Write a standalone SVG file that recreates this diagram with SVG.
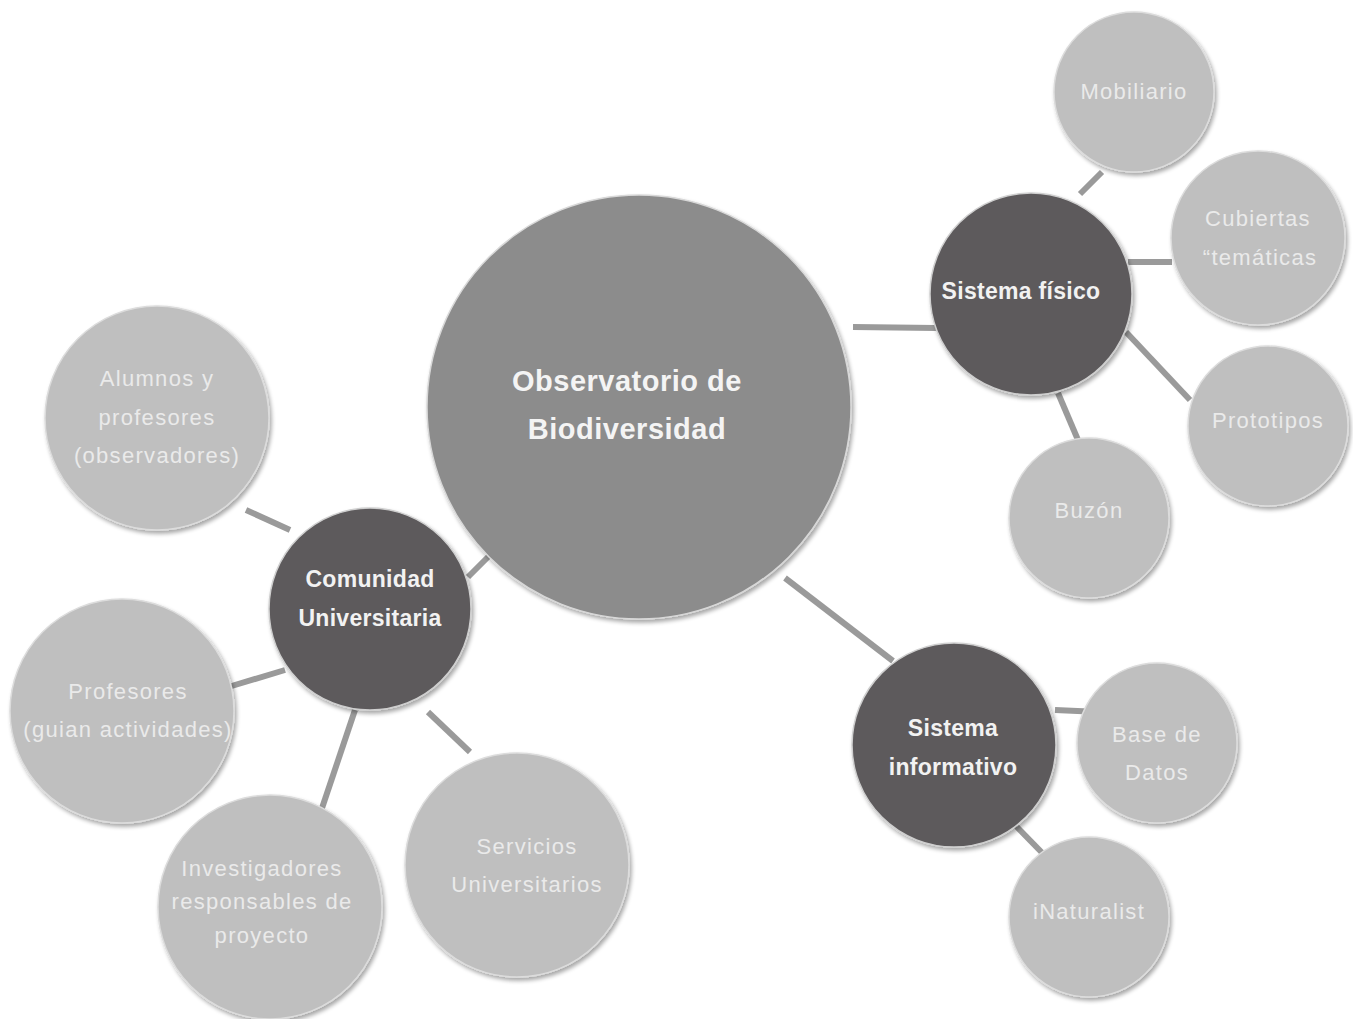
<svg xmlns="http://www.w3.org/2000/svg" width="1353" height="1019" viewBox="0 0 1353 1019">
<defs>
<filter id="sh" x="-10%" y="-10%" width="125%" height="125%">
<feGaussianBlur in="SourceAlpha" stdDeviation="2"/>
<feOffset dx="2" dy="3"/>
<feComponentTransfer><feFuncA type="linear" slope="0.35"/></feComponentTransfer>
<feMerge><feMergeNode/><feMergeNode in="SourceGraphic"/></feMerge>
</filter>
</defs>
<style>
.main{fill:#8c8c8c;stroke:#d8d8d8;stroke-width:1.5;filter:url(#sh)}
.dark{fill:#5d5a5c;stroke:#cfcfcf;stroke-width:1.5;filter:url(#sh)}
.light{fill:#bfbfbf;stroke:#dcdcdc;stroke-width:1.5;filter:url(#sh)}
.conn{stroke:#9a9a9a;stroke-width:6;stroke-linecap:butt;fill:none}
text{font-family:"Liberation Sans",Arial,sans-serif;text-anchor:middle}
.tm{fill:#f4f4f4;font-size:29px;font-weight:bold;letter-spacing:0.5px}
.td{fill:#f2f2f2;font-size:23px;font-weight:bold;letter-spacing:0.3px}
.tl{fill:#eaeaea;font-size:22px;letter-spacing:1.3px}
</style>
<rect width="1353" height="1019" fill="#ffffff"/>
<g id="connectors">
<line class="conn" x1="853" y1="327" x2="936" y2="328"/>
<line class="conn" x1="492" y1="553" x2="468" y2="577"/>
<line class="conn" x1="785" y1="578" x2="893" y2="661"/>
<line class="conn" x1="1080" y1="194" x2="1102" y2="172"/>
<line class="conn" x1="1128" y1="262" x2="1172" y2="262"/>
<line class="conn" x1="1126" y1="332" x2="1190" y2="400"/>
<line class="conn" x1="1058" y1="393" x2="1078" y2="440"/>
<line class="conn" x1="1055" y1="710" x2="1100" y2="712"/>
<line class="conn" x1="1015" y1="825" x2="1055" y2="866"/>
<line class="conn" x1="246" y1="510" x2="290" y2="530"/>
<line class="conn" x1="225" y1="688" x2="285" y2="670"/>
<line class="conn" x1="355" y1="710" x2="317" y2="823"/>
<line class="conn" x1="428" y1="712" x2="470" y2="752"/>
</g>
<g id="n-observatorio"><circle class="main" cx="639" cy="407" r="212"/><text class="tm" x="627" y="391">Observatorio de</text><text class="tm" x="627" y="439">Biodiversidad</text></g>
<g id="n-sistema-fisico"><circle class="dark" cx="1031" cy="294" r="101"/><text class="td" x="1021" y="299">Sistema físico</text></g>
<g id="n-mobiliario"><circle class="light" cx="1134" cy="92" r="80"/><text class="tl" x="1134" y="99">Mobiliario</text></g>
<g id="n-cubiertas"><circle class="light" cx="1258" cy="238" r="87"/><text class="tl" x="1258" y="226">Cubiertas</text><text class="tl" x="1260" y="265">“temáticas</text></g>
<g id="n-prototipos"><circle class="light" cx="1268" cy="426" r="80"/><text class="tl" x="1268" y="428">Prototipos</text></g>
<g id="n-buzon"><circle class="light" cx="1089" cy="518" r="80"/><text class="tl" x="1089" y="518">Buzón</text></g>
<g id="n-sistema-informativo"><circle class="dark" cx="954" cy="745" r="102"/><text class="td" x="953" y="736">Sistema</text><text class="td" x="953" y="775">informativo</text></g>
<g id="n-base-datos"><circle class="light" cx="1157" cy="743" r="80"/><text class="tl" x="1157" y="742">Base de</text><text class="tl" x="1157" y="780">Datos</text></g>
<g id="n-inaturalist"><circle class="light" cx="1089" cy="917" r="80"/><text class="tl" x="1089" y="919">iNaturalist</text></g>
<g id="n-comunidad"><circle class="dark" cx="370" cy="609" r="101"/><text class="td" x="370" y="587">Comunidad</text><text class="td" x="370" y="626">Universitaria</text></g>
<g id="n-alumnos"><circle class="light" cx="157" cy="418" r="112"/><text class="tl" x="157" y="386">Alumnos y</text><text class="tl" x="157" y="425">profesores</text><text class="tl" x="157" y="463">(observadores)</text></g>
<g id="n-profesores"><circle class="light" cx="122" cy="711" r="112"/><text class="tl" x="128" y="699">Profesores</text><text class="tl" x="128" y="737">(guian actividades)</text></g>
<g id="n-investigadores"><circle class="light" cx="270" cy="907" r="112"/><text class="tl" x="262" y="876">Investigadores</text><text class="tl" x="262" y="909">responsables de</text><text class="tl" x="262" y="943">proyecto</text></g>
<g id="n-servicios"><circle class="light" cx="517" cy="865" r="112"/><text class="tl" x="527" y="854">Servicios</text><text class="tl" x="527" y="892">Universitarios</text></g>
</svg>
